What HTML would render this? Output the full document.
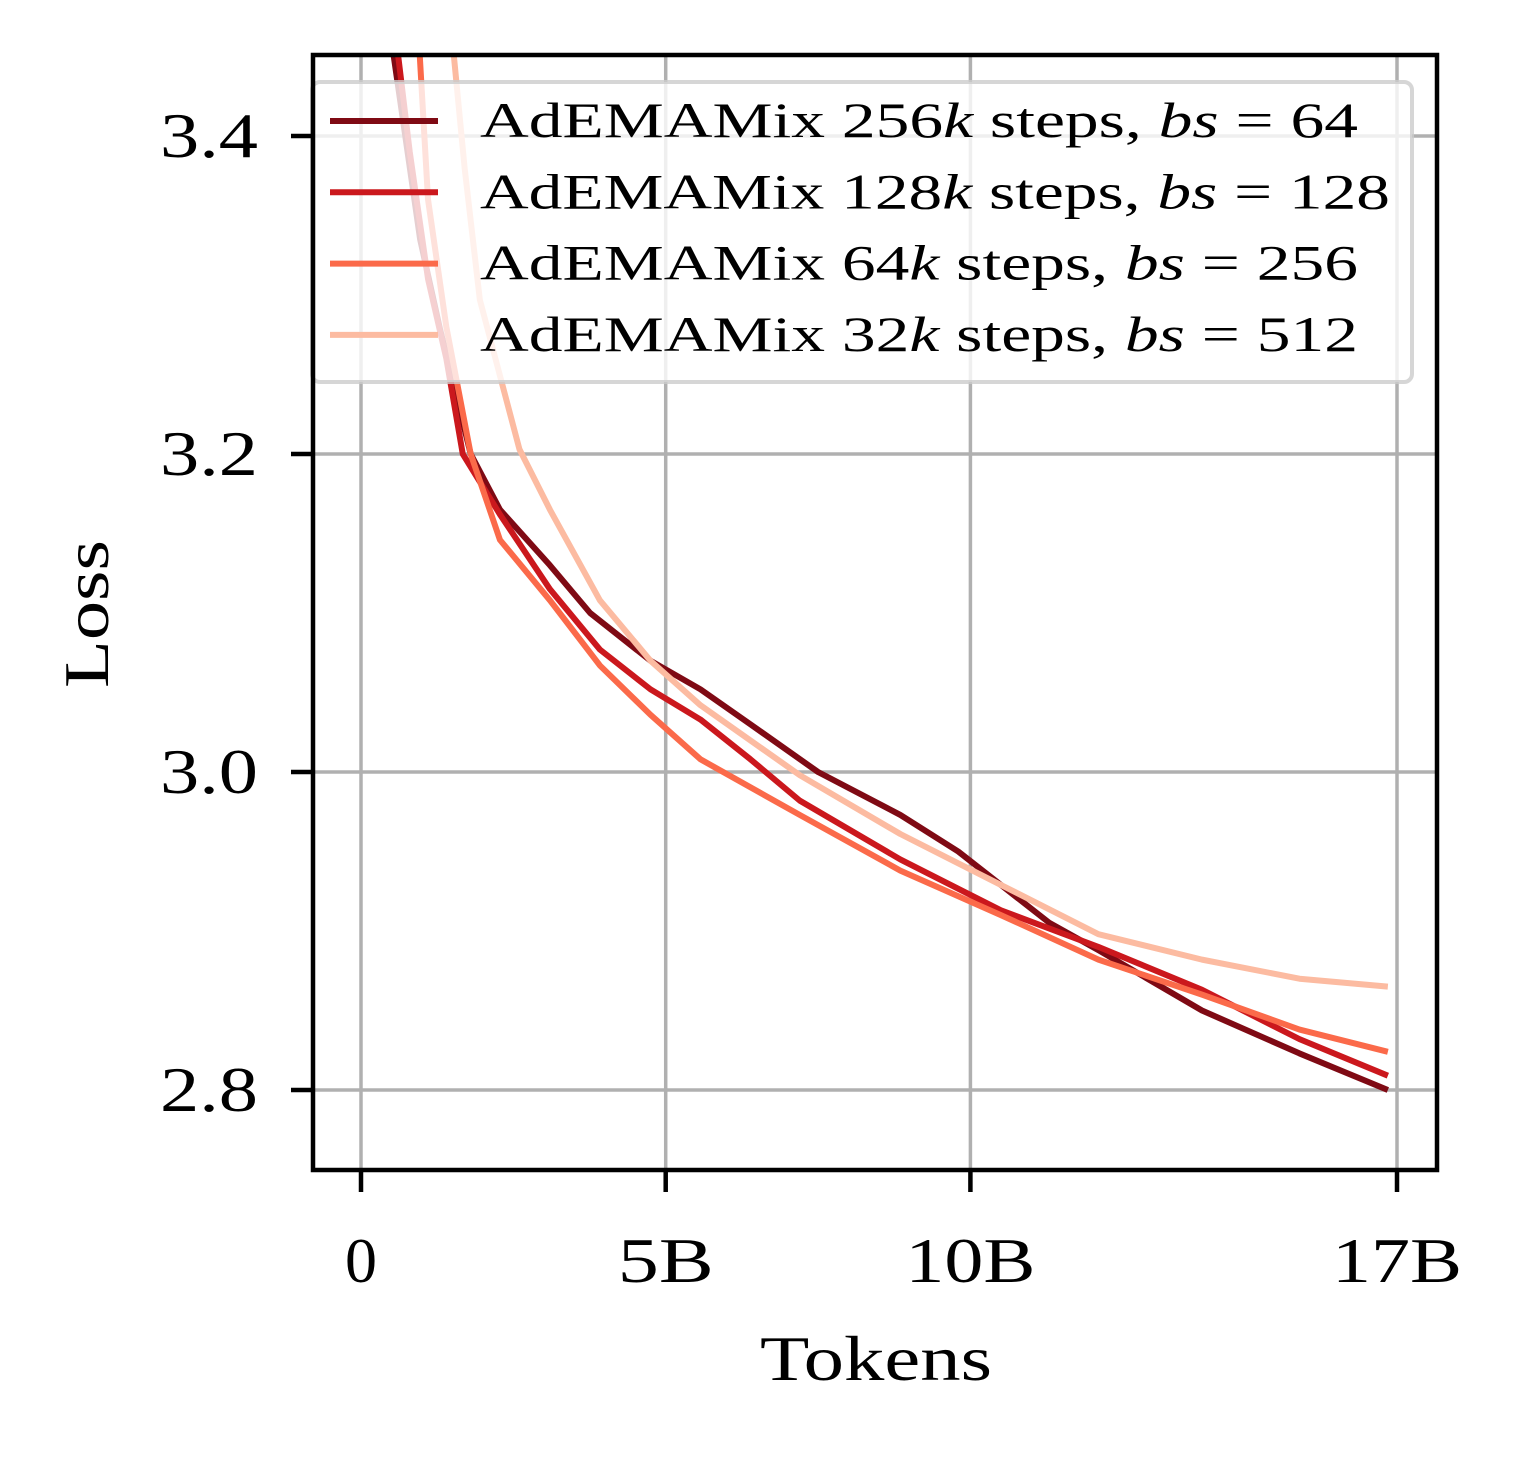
<!DOCTYPE html>
<html><head><meta charset="utf-8"><style>
body{margin:0;background:#fff}
svg text{font-family:"Liberation Serif",serif;fill:#000}
</style></head><body>
<svg width="1523" height="1455" viewBox="0 0 1523 1455" xmlns="http://www.w3.org/2000/svg">
<defs><clipPath id="pc"><rect x="313" y="55" width="1124" height="1115"/></clipPath></defs>
<g id="grid"></g>
<g id="series" clip-path="url(#pc)"></g>
<g id="legend"></g>
<rect x="313" y="55" width="1124" height="1115" fill="none" stroke="#000" stroke-width="4.5"/>
<g id="ticks"></g>
<text x="876" y="1380" font-size="64" text-anchor="middle" textLength="232" lengthAdjust="spacingAndGlyphs">Tokens</text>
<text transform="translate(108,614) rotate(-90)" font-size="64" text-anchor="middle" textLength="148" lengthAdjust="spacingAndGlyphs">Loss</text>
</svg>
<script>
const xTicks=[0,5,10,17];
const xTickLabels=["0","5B","10B","17B"];
const yTicks=[2.8,3.0,3.2,3.4];
const yTickLabels=["2.8","3.0","3.2","3.4"];
const seriesNames=["AdEMAMix 256k steps, bs = 64","AdEMAMix 128k steps, bs = 128","AdEMAMix 64k steps, bs = 256","AdEMAMix 32k steps, bs = 512"];
const x256=[0.50,0.64,0.97,1.3,1.8,2.28,3.1,3.76,4.75,5.57,6.39,7.5,8.85,9.8,11.3,12.1,13.8,15.4,16.85];
const y256=[3.46,3.423,3.335,3.278,3.2,3.165,3.13,3.1,3.07,3.052,3.03,3.0,2.973,2.95,2.905,2.888,2.85,2.823,2.8];
const x128=[0.58,0.8,1.1,1.4,1.67,2.28,3.1,3.92,4.75,5.57,6.39,7.2,8.85,10.5,12.1,13.8,15.4,16.85];
const y128=[3.46,3.39,3.31,3.26,3.2,3.162,3.115,3.077,3.052,3.033,3.008,2.982,2.945,2.913,2.89,2.863,2.832,2.809];
const x64=[0.95,1.1,1.4,1.8,2.28,3.1,3.92,4.75,5.57,7.2,8.85,10.5,12.1,13.8,15.4,16.85];
const y64=[3.46,3.36,3.28,3.2,3.146,3.108,3.067,3.036,3.008,2.973,2.938,2.91,2.882,2.86,2.838,2.824];
const x32=[1.5,1.7,1.95,2.6,3.1,3.92,4.75,5.57,7.2,8.85,10.5,12.1,13.8,15.4,16.85];
const y32=[3.46,3.38,3.297,3.203,3.165,3.108,3.07,3.042,2.998,2.961,2.929,2.898,2.882,2.87,2.865];
const colors=["#7f0a14","#cb181d","#fb6a4a","#fcbba1"];
const NS="http://www.w3.org/2000/svg";
const sx=v=>361+v*(1397-361)/17;
const sy=v=>772-(v-3.0)*(772-454)/0.2;
function mk(t,a,p){const e=document.createElementNS(NS,t);for(const k in a)e.setAttribute(k,a[k]);p.appendChild(e);return e;}
const grid=document.getElementById('grid'),ticks=document.getElementById('ticks');
const xw=[0,96,130,130];
xTicks.forEach((v,i)=>{
 const g=mk('line',{x1:sx(v),x2:sx(v),y1:55,y2:1170,stroke:'#b0b0b0','stroke-width':3.5},grid);
 
 
 const t=mk('line',{x1:sx(v),x2:sx(v),y1:1170,y2:1192,stroke:'#000','stroke-width':4.5},ticks);
 
 
 const at={x:sx(v),y:1282,'font-size':64,'text-anchor':'middle'};
 if(xw[i]){at.textLength=xw[i];at.lengthAdjust='spacingAndGlyphs';}
 const l=mk('text',at,ticks);l.textContent=xTickLabels[i];
 
 
});
yTicks.forEach((v,i)=>{
 const g=mk('line',{x1:313,x2:1437,y1:sy(v),y2:sy(v),stroke:'#b0b0b0','stroke-width':3.5},grid);
 
 
 const t=mk('line',{x1:291,x2:313,y1:sy(v),y2:sy(v),stroke:'#000','stroke-width':4.5},ticks);
 
 
 const l=mk('text',{x:258,y:sy(v)+21,'font-size':64,'text-anchor':'end',textLength:98,lengthAdjust:'spacingAndGlyphs'},ticks);l.textContent=yTickLabels[i];
 
 
});
const data=[[x256,y256],[x128,y128],[x64,y64],[x32,y32]];
const ser=document.getElementById('series');
data.forEach((d,i)=>{
 const pts=d[0].map((x,j)=>sx(x)+','+sy(d[1][j])).join(' ');
 const p=mk('polyline',{points:pts,fill:'none',stroke:colors[i],'stroke-width':6,'stroke-linejoin':'round'},ser);
 
 
});
const lg=document.getElementById('legend');
const box=mk('rect',{x:312,y:82,width:1100,height:300,rx:8,fill:'rgba(255,255,255,0.8)',stroke:'rgba(204,204,204,0.8)','stroke-width':4},lg);


const labs=[["AdEMAMix 256","k"," steps, ","bs"," = 64"],["AdEMAMix 128","k"," steps, ","bs"," = 128"],["AdEMAMix 64","k"," steps, ","bs"," = 256"],["AdEMAMix 32","k"," steps, ","bs"," = 512"]];
const lw=[878,910,878,878];
labs.forEach((s,i)=>{
 const y=121+i*71.3;
 const l=mk('line',{x1:330,x2:438,y1:y,y2:y,stroke:colors[i],'stroke-width':6},lg);
 
 
 const t=mk('text',{x:480,y:y+16,'font-size':50,textLength:lw[i],lengthAdjust:'spacingAndGlyphs'},lg);
 
 
 s.forEach((part,k)=>{const ts=mk('tspan',{},t);ts.textContent=part;if(k===1||k===3)ts.setAttribute('font-style','italic');});
});
</script>
</body></html>
